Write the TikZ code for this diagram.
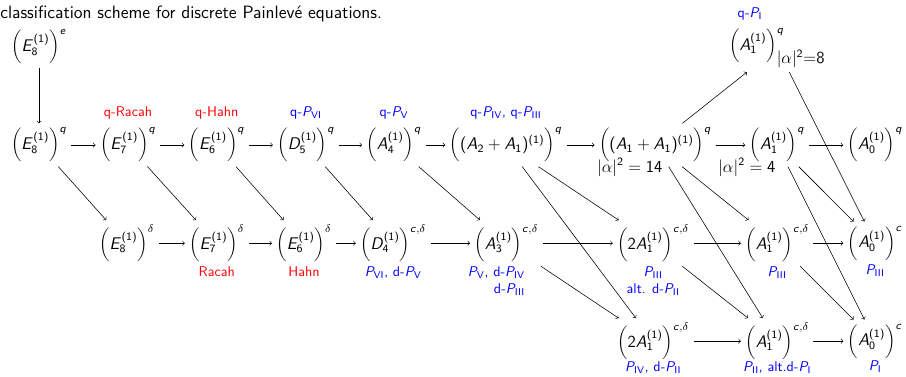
\documentclass[tikz,border=0pt]{standalone}
\usetikzlibrary{positioning}
% sans serif letters and digits in math
\DeclareSymbolFont{sfletters}{OT1}{cmss}{m}{sl}
\SetSymbolFont{operators}{normal}{OT1}{cmss}{m}{n}
\DeclareMathSymbol{A}{\mathalpha}{sfletters}{`A}
\DeclareMathSymbol{D}{\mathalpha}{sfletters}{`D}
\DeclareMathSymbol{E}{\mathalpha}{sfletters}{`E}
\DeclareMathSymbol{P}{\mathalpha}{sfletters}{`P}
\DeclareMathSymbol{c}{\mathalpha}{sfletters}{`c}
\DeclareMathSymbol{e}{\mathalpha}{sfletters}{`e}
\DeclareMathSymbol{q}{\mathalpha}{sfletters}{`q}
\newcommand{\aff}[3]{\biggl(#1_{#2}^{(1)}\biggr)^{#3}}
\newcommand{\pn}[1]{$P_{\mathrm{#1}}$}
\tikzset{
  every picture/.style={font=\sffamily},
  sym/.style={inner sep=3pt, font=\large},
  lbl/.style={font=\sffamily, inner sep=1pt, text height=1.6ex, text depth=.5ex},
  qname/.style={lbl, text=red},
  pname/.style={lbl, text=blue},
  pnames/.style={font=\sffamily, inner sep=1pt, text=blue},
  arrow/.style={->},
  title/.style={font=\sffamily\fontsize{12.7}{15}\selectfont},
}

\begin{document}
\begin{tikzpicture}
  \useasboundingbox (0,0) rectangle (22.65,-9.4);
  \node[title, anchor=base west, inner sep=0pt] (head) at (0,-0.47) {classification scheme for discrete Painlevé equations.};

  % elliptic and q row
  \node[sym] (e8e) at (0.975,-1.17) {$\aff{E}{8}{e}$};
  \node[sym] (a1t) at (19.43,-1.2) {$\aff{A}{1}{q}_{\textstyle|\alpha|^2{=}8}$};
  \node[sym] (e8q) at (0.975,-3.625) {$\aff{E}{8}{q}$};
  \node[sym] (e7q) at (3.2,-3.625) {$\aff{E}{7}{q}$};
  \node[sym] (e6q) at (5.42,-3.625) {$\aff{E}{6}{q}$};
  \node[sym] (d5q) at (7.65,-3.625) {$\aff{D}{5}{q}$};
  \node[sym] (a4q) at (9.85,-3.625) {$\aff{A}{4}{q}$};
  \node[sym] (a2a1q) at (12.65,-3.625) {$\biggl((A_2+A_1)^{(1)}\biggr)^q$};
  \node[sym] (a1a1q) at (16.38,-3.625) {$\biggl((A_1+A_1)^{(1)}\biggr)^q$};
  \node[sym] (a1q) at (19.43,-3.625) {$\aff{A}{1}{q}$};
  \node[sym] (a0q) at (21.88,-3.625) {$\aff{A}{0}{q}$};
  \node[sym, anchor=base west, inner sep=0pt] (n14) at (14.92,-4.3) {$|\alpha|^2 = 14$};
  \node[sym, anchor=base west, inner sep=0pt] (n4) at (17.95,-4.3) {$|\alpha|^2 = 4$};

  % additive rows
  \node[sym] (e8d) at (3.17,-6.08) {$\aff{E}{8}{\delta}$};
  \node[sym] (e7d) at (5.42,-6.08) {$\aff{E}{7}{\delta}$};
  \node[sym] (e6d) at (7.6,-6.08) {$\aff{E}{6}{\delta}$};
  \node[sym] (d4d) at (9.83,-6.08) {$\aff{D}{4}{c,\delta}$};
  \node[sym] (a3d) at (12.66,-6.08) {$\aff{A}{3}{c,\delta}$};
  \node[sym] (twoa1d) at (16.33,-6.08) {$\biggl(2A_1^{(1)}\biggr)^{c,\delta}$};
  \node[sym] (a1d) at (19.43,-6.08) {$\aff{A}{1}{c,\delta}$};
  \node[sym] (a0d) at (21.88,-6.08) {$\aff{A}{0}{c}$};
  \node[sym] (twoa1c) at (16.33,-8.53) {$\biggl(2A_1^{(1)}\biggr)^{c,\delta}$};
  \node[sym] (a1c) at (19.43,-8.53) {$\aff{A}{1}{c,\delta}$};
  \node[sym] (a0c) at (21.88,-8.53) {$\aff{A}{0}{c}$};

  % names
  \node[pname, above=1.5pt of a1t, xshift=-0.68cm] (l1) {q-\pn{I}};
  \node[qname, above=1.5pt of e7q] (l2) {q-Racah};
  \node[qname, above=1.5pt of e6q] (l3) {q-Hahn};
  \node[pname, above=1.5pt of d5q] (l4) {q-\pn{VI}};
  \node[pname, above=1.5pt of a4q] (l5) {q-\pn{V}};
  \node[pname, above=1.5pt of a2a1q] (l6) {q-\pn{IV}, q-\pn{III}};
  \node[qname, below=-1pt of e7d] (l7) {Racah};
  \node[qname, below=-1pt of e6d] (l8) {Hahn};
  \node[pname, below=-1pt of d4d] (l9) {\pn{VI}, d-\pn{V}};
  \node[pnames, below=-1pt of a3d, xshift=-0.25cm, align=right] (l10) {\pn{V}, d-\pn{IV}\\d-\pn{III}};
  \node[pnames, below=-1pt of twoa1d, align=center] (l11) {\pn{III}\\alt. d-\pn{II}};
  \node[pname, below=-1pt of a1d] (l12) {\pn{III}};
  \node[pname, below=-1pt of a0d] (l13) {\pn{III}};
  \node[pname, below=-3pt of twoa1c] (l14) {\pn{IV}, d-\pn{II}};
  \node[pname, below=-3pt of a1c] (l15) {\pn{II}, alt.d-\pn{I}};
  \node[pname, below=-3pt of a0c] (l16) {\pn{I}};

  % degenerations
  \foreach \a/\b in {e8e/e8q, e8q/e7q, e7q/e6q, e6q/d5q, d5q/a4q, a4q/a2a1q, a2a1q/a1a1q, a1a1q/a1q, a1q/a0q, a1a1q/a1t,
      e8d/e7d, e7d/e6d, e6d/d4d, d4d/a3d, a3d/twoa1d, twoa1d/a1d, a1d/a0d, twoa1c/a1c, a1c/a0c}
    \draw[arrow] (\a) -- (\b);
  \foreach \a/\b in {e8q/e8d, e7q/e7d, e6q/e6d, d5q/d4d, a4q/a3d, a2a1q/twoa1d, a2a1q/twoa1c, a1a1q/a1d, a1a1q/a1c,
      a1q/a0d, a1q/a0c, a1t/a0d, twoa1d/a1c, a1d/a0c, a3d/twoa1c}
    \draw[arrow] (\a) -- (\b);
\end{tikzpicture}
\end{document}
